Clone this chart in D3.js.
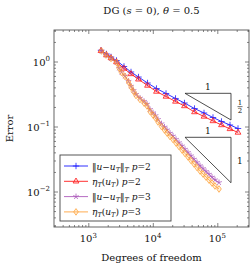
<!DOCTYPE html>
<html><head><meta charset="utf-8">
<script src="https://cdn.jsdelivr.net/npm/d3@7"></script>
<style>body{margin:0;background:#fff}svg{display:block}svg text{font-family:"DejaVu Serif",serif}</style>
</head><body>
<svg id="c" width="251" height="268"></svg>
<script>
// ---- data ----
const dofP2 = [1574,1914,2249,2736,3573,4592,5998,8279,11400,16030,22500,30970,44340,62230,85760,116200,157400,209500];
const errP2 = [1.487,1.304,1.173,1.036,0.838,0.690,0.577,0.467,0.384,0.322,0.270,0.230,0.189,0.1614,0.1376,0.1194,0.1055,0.0932];
const estP2 = [1.461,1.259,1.132,0.982,0.780,0.643,0.532,0.427,0.345,0.2895,0.2427,0.2068,0.167,0.1426,0.1216,0.1055,0.0918,0.0809];

const dofP3 = [1602,1881,2249,2736,2992,3271,3706,4198,4592,5022,5490,6332,7304,8128,9049,10070,11010,12040,13640,15190,16600,18480,20570,22890,25480,28360,31570,35130,39100,43530,48450,53930,60020,66800,74350,82760,92100,106300];
const errP3 = [1.450,1.259,1.112,0.965,0.794,0.684,0.599,0.497,0.418,0.359,0.313,0.2745,0.2446,0.2214,0.1834,0.1631,0.1475,0.1286,0.1106,0.0985,0.0889,0.0792,0.0716,0.0637,0.0566,0.0504,0.0448,0.0399,0.0355,0.0315,0.0280,0.0250,0.0226,0.0204,0.0185,0.0167,0.01516,0.01376];
const estP3 = [1.450,1.259,1.112,0.965,0.794,0.677,0.588,0.484,0.405,0.3455,0.2999,0.2602,0.2299,0.2067,0.1701,0.1503,0.1352,0.1173,0.1000,0.0884,0.0794,0.0702,0.0631,0.0557,0.0492,0.0435,0.0384,0.0340,0.0300,0.0265,0.0234,0.0207,0.0186,0.0167,0.0150,0.0135,0.01216,0.01093];

const xMajor = [1e3,1e4,1e5];
const xMajorExp = ["3","4","5"];
const yMajor = [1e0,1e-1,1e-2];
const yMajorExp = ["0","\u22121","\u22122"];

const tri1 = [31550, 163000, 0.324, 0.126];
const tri1Labels = ["1", ["1","2"]];
const tri2 = [31550, 163000, 0.0682, 0.01365];
const tri2Labels = ["1", ["1"]];

const legendLabels = [
  {norm:true,  p:"2"},
  {norm:false, p:"2"},
  {norm:true,  p:"3"},
  {norm:false, p:"3"}
];

const L = 54, R = 249, T = 30, B = 227;
const svg = d3.select("#c");

const x = d3.scaleLog().domain([Math.pow(10,2.468), Math.pow(10,5.4915)]).range([L,R]);
const y = d3.scaleLog().domain([Math.pow(10,0.4846), Math.pow(10,-2.546)]).range([T,B]);

function minors(lo, hi){
  const out=[];
  for(let e=Math.floor(Math.log10(lo)); e<=Math.ceil(Math.log10(hi)); e++){
    for(let k=2;k<=9;k++){const v=k*Math.pow(10,e); if(v>=lo&&v<=hi) out.push(v);}
  }
  return out;
}
const xd = x.domain(), yd = y.domain();
const xMinor = minors(xd[0], xd[1]);
const yMinor = minors(yd[1], yd[0]);

const tickCol = "#666";
function styleAxis(g){
  g.select(".domain").remove();
  g.selectAll(".tick line").attr("stroke", tickCol).attr("stroke-width",0.8);
  g.selectAll("text").remove();
}
svg.append("g").attr("transform",`translate(0,${B})`).call(d3.axisBottom(x).tickValues(xMajor).tickSize(-4).tickFormat("")).call(styleAxis);
svg.append("g").attr("transform",`translate(0,${B})`).call(d3.axisBottom(x).tickValues(xMinor).tickSize(-2).tickFormat("")).call(styleAxis);
svg.append("g").attr("transform",`translate(0,${T})`).call(d3.axisTop(x).tickValues(xMajor).tickSize(-4).tickFormat("")).call(styleAxis);
svg.append("g").attr("transform",`translate(0,${T})`).call(d3.axisTop(x).tickValues(xMinor).tickSize(-2).tickFormat("")).call(styleAxis);
svg.append("g").attr("transform",`translate(${L},0)`).call(d3.axisLeft(y).tickValues(yMajor).tickSize(-4).tickFormat("")).call(styleAxis);
svg.append("g").attr("transform",`translate(${L},0)`).call(d3.axisLeft(y).tickValues(yMinor).tickSize(-2).tickFormat("")).call(styleAxis);
svg.append("g").attr("transform",`translate(${R},0)`).call(d3.axisRight(y).tickValues(yMajor).tickSize(-4).tickFormat("")).call(styleAxis);
svg.append("g").attr("transform",`translate(${R},0)`).call(d3.axisRight(y).tickValues(yMinor).tickSize(-2).tickFormat("")).call(styleAxis);

svg.append("rect").attr("x",L).attr("y",T).attr("width",R-L).attr("height",B-T)
  .attr("fill","none").attr("stroke","#555").attr("stroke-width",0.9);

xMajor.forEach((v,i)=>{
  const t = svg.append("text").attr("x",x(v)).attr("y",B+15).attr("text-anchor","middle")
    .attr("font-size",10).attr("fill","#111");
  t.append("tspan").text("10");
  t.append("tspan").attr("dy",-4.5).attr("font-size",7).text(xMajorExp[i]);
});
yMajor.forEach((v,i)=>{
  const t = svg.append("text").attr("x",L-4).attr("y",y(v)+4).attr("text-anchor","end")
    .attr("font-size",10).attr("fill","#111");
  t.append("tspan").text("10");
  t.append("tspan").attr("dy",-4.5).attr("font-size",7).text(yMajorExp[i]);
});

{
  const t = svg.append("text").attr("x",(L+R)/2).attr("y",14).attr("text-anchor","middle")
    .attr("font-size",10).attr("fill","#111");
  t.append("tspan").text("DG (");
  t.append("tspan").attr("font-style","italic").text("s");
  t.append("tspan").text(" = 0), ");
  t.append("tspan").attr("font-style","italic").text("\u03b8");
  t.append("tspan").text(" = 0.5");
}
svg.append("text").attr("x",(L+R)/2).attr("y",261).attr("text-anchor","middle")
  .attr("font-size",10).attr("fill","#111").text("Degrees of freedom");
svg.append("text").attr("transform",`translate(13,${(T+B)/2}) rotate(-90)`).attr("text-anchor","middle")
  .attr("font-size",10).attr("fill","#111").text("Error");

function triangle(tr, labs){
  const [x0,x1,yt,yb]=tr;
  svg.append("path").attr("d",`M${x(x0)},${y(yt)}L${x(x1)},${y(yt)}L${x(x1)},${y(yb)}Z`)
    .attr("fill","none").attr("stroke","#222").attr("stroke-width",0.8);
  svg.append("text").attr("x",(x(x0)+x(x1))/2).attr("y",y(yt)-3).attr("text-anchor","middle")
    .attr("font-size",9).attr("fill","#111").text(labs[0]);
  const cx = x(x1)+9, cy = (y(yt)+y(yb))/2;
  if(labs[1].length===2){
    svg.append("text").attr("x",cx).attr("y",cy-1.5).attr("text-anchor","middle").attr("font-size",7).attr("fill","#111").text(labs[1][0]);
    svg.append("line").attr("x1",cx-2.5).attr("x2",cx+2.5).attr("y1",cy).attr("y2",cy).attr("stroke","#111").attr("stroke-width",0.6);
    svg.append("text").attr("x",cx).attr("y",cy+6.5).attr("text-anchor","middle").attr("font-size",7).attr("fill","#111").text(labs[1][1]);
  } else {
    svg.append("text").attr("x",cx).attr("y",cy+3.5).attr("text-anchor","middle").attr("font-size",9).attr("fill","#111").text(labs[1][0]);
  }
}
triangle(tri1, tri1Labels);
triangle(tri2, tri2Labels);

const markers = {
  plus: "M-3.2,0H3.2M0,-3.2V3.2",
  tri: "M0,-3.3L2.9,1.7L-2.9,1.7Z",
  star: (()=>{let d="";for(let k=0;k<5;k++){const a=-Math.PI/2+k*2*Math.PI/5;d+=`M0,0L${(3*Math.cos(a)).toFixed(2)},${(3*Math.sin(a)).toFixed(2)}`;}return d;})(),
  diam: "M0,-3.3L2.3,0L0,3.3L-2.3,0Z"
};
const series = [
  {xs:dofP2, ys:errP2, col:"#1a1aff", m:"plus", fill:"none", op:1},
  {xs:dofP2, ys:estP2, col:"#ff1a1a", m:"tri", fill:"rgba(255,80,80,0.15)", op:1},
  {xs:dofP3, ys:errP3, col:"#a040b0", m:"star", fill:"none", op:0.85},
  {xs:dofP3, ys:estP3, col:"#ff9a2a", m:"diam", fill:"rgba(255,200,120,0.25)", op:0.9}
];
const line = d3.line().x(d=>x(d[0])).y(d=>y(d[1]));
series.forEach(s=>{
  const pts = s.xs.map((v,i)=>[v,s.ys[i]]);
  const g = svg.append("g").attr("opacity",s.op);
  g.append("path").attr("d",line(pts)).attr("fill","none").attr("stroke",s.col).attr("stroke-width",0.9);
  g.selectAll("path.m").data(pts).enter().append("path").attr("class","m")
    .attr("transform",d=>`translate(${x(d[0])},${y(d[1])})`)
    .attr("d",markers[s.m]).attr("fill",s.fill).attr("stroke",s.col).attr("stroke-width",0.8);
});

const lg = svg.append("g");
lg.append("rect").attr("x",60).attr("y",155).attr("width",111).attr("height",66)
  .attr("fill","#fff").attr("stroke","#444").attr("stroke-width",0.9);
legendLabels.forEach((l,i)=>{
  const s = series[i];
  const yy = 166 + i*15.3;
  const g = lg.append("g").attr("opacity",s.op);
  g.append("line").attr("x1",64).attr("x2",88).attr("y1",yy).attr("y2",yy).attr("stroke",s.col).attr("stroke-width",0.9);
  g.append("path").attr("transform",`translate(76,${yy})`).attr("d",markers[s.m]).attr("fill",s.fill).attr("stroke",s.col).attr("stroke-width",0.8);
  const t = lg.append("text").attr("x",92).attr("y",yy+3.5).attr("font-size",9).attr("fill","#111");
  const sub = (txt)=>{ t.append("tspan").attr("font-style","italic").attr("font-size",6.5).attr("dy",2).text(txt); };
  if(l.norm){
    t.append("tspan").text("\u2016");
    t.append("tspan").attr("font-style","italic").text("u");
    t.append("tspan").text("\u2212");
    t.append("tspan").attr("font-style","italic").text("u");
    sub("T");
    t.append("tspan").attr("dy",-2).text("\u2016");
    sub("T");
    t.append("tspan").attr("dy",-2).text(" ");
  } else {
    t.append("tspan").attr("font-style","italic").text("\u03b7");
    sub("T");
    t.append("tspan").attr("dy",-2).text("(");
    t.append("tspan").attr("font-style","italic").text("u");
    sub("T");
    t.append("tspan").attr("dy",-2).text(") ");
  }
  t.append("tspan").attr("font-style","italic").text("p");
  t.append("tspan").text("="+l.p);
});
</script>
</body></html>
